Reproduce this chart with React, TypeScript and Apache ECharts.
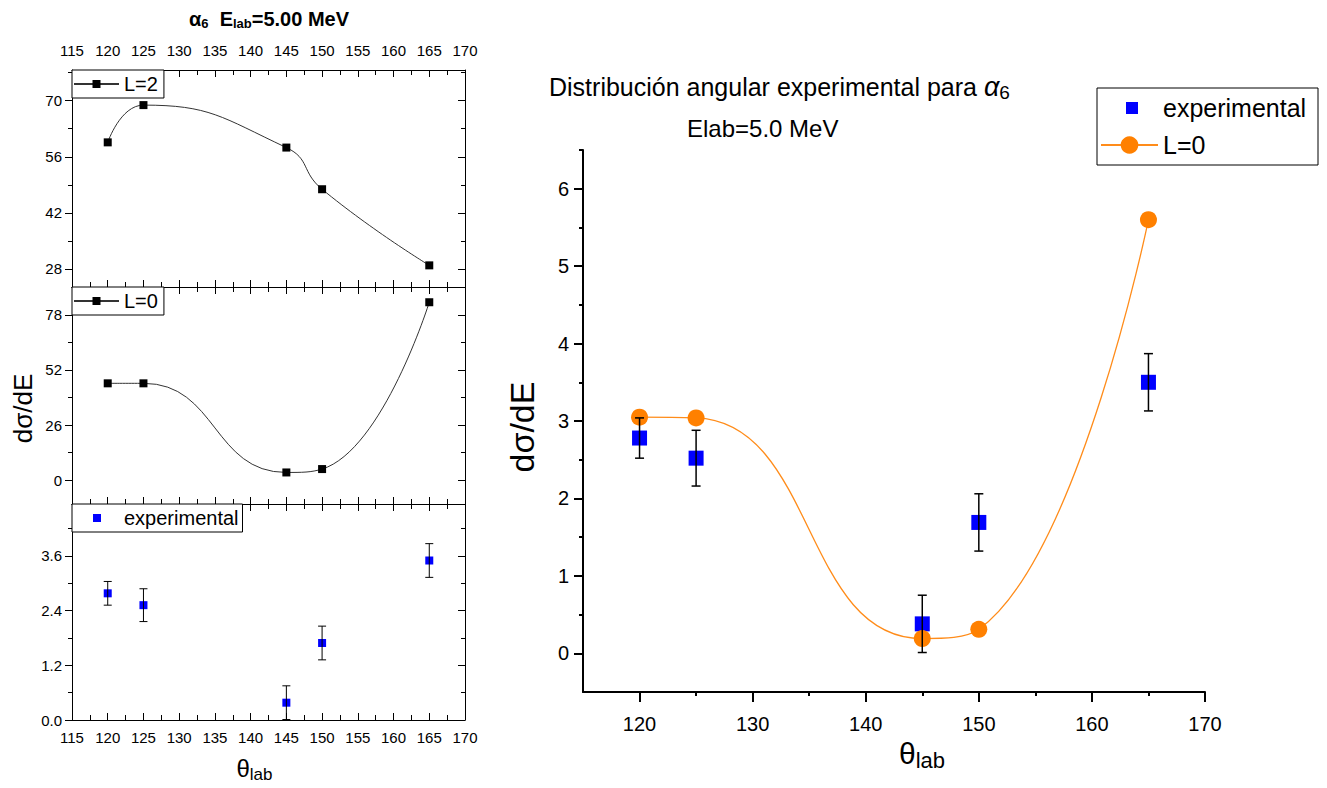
import React, { useEffect, useRef } from "react";
import * as echarts from "echarts";

// ---------- data ----------
const angles = [120, 125, 145, 150, 165];
const l2Values = [59.6, 68.9, 58.3, 47.9, 28.9];
const l0LeftValues = [45.7, 45.7, 3.6, 5.2, 84.0];
const expValues = [2.78, 2.52, 0.38, 1.69, 3.5];
const expErrors = [0.26, 0.36, 0.37, 0.37, 0.37];
const l0RightValues = [3.05, 3.04, 0.19, 0.31, 5.6];

// axis ranges / tick labels
const leftXRange = [115, 170];
const leftXStep = 5;
const panel1Range = [23.5, 77.66];
const panel1Ticks = [28, 42, 56, 70];
const panel1Minor = [35, 49, 63, 77];
const panel2Range = [-11.3, 91.2];
const panel2Ticks = [0, 26, 52, 78];
const panel2Minor = [13, 39, 65];
const panel3Range = [0, 4.74];
const panel3Ticks = [0, 1.2, 2.4, 3.6];
const panel3Minor = [0.6, 1.8, 3.0, 4.2];
const rightXRange = [115, 170];
const rightXTicks = [120, 130, 140, 150, 160, 170];
const rightXMinor = [125, 135, 145, 155, 165];
const rightYRange = [-0.5, 6.5];
const rightYTicks = [0, 1, 2, 3, 4, 5, 6];
const rightYMinor = [0.5, 1.5, 2.5, 3.5, 4.5, 5.5, 6.5];

const FONT = "'Liberation Sans', Arial, sans-serif";
const BLACK = "#000";
const BLUE = "#0000FF";
const ORANGE = "#FF8000";

function leftX(grid: number, pos: string, showLabel: boolean, withName: boolean) {
  const ax: any = {
    type: "value",
    gridIndex: grid,
    position: pos,
    min: leftXRange[0],
    max: leftXRange[1],
    interval: leftXStep,
    axisLine: { show: true, onZero: false, lineStyle: { color: BLACK, width: 1 } },
    axisTick: { show: true, inside: true, length: 7, lineStyle: { color: BLACK, width: 1 } },
    minorTick: { show: true, splitNumber: 2, length: 5, lineStyle: { color: BLACK, width: 1 } },
    splitLine: { show: false },
    minorSplitLine: { show: false },
    axisLabel: {
      show: showLabel,
      fontSize: 15,
      color: BLACK,
      fontFamily: FONT,
      margin: pos === "top" ? 12 : 10,
    },
  };
  if (withName) {
    ax.name = "{t|θ}{s|lab}";
    ax.nameLocation = "middle";
    ax.nameGap = 34;
    ax.nameTextStyle = {
      padding: [0, 28, 0, 0],
      rich: {
        t: { fontSize: 24, fontFamily: FONT, color: BLACK },
        s: { fontSize: 17, fontFamily: FONT, color: BLACK, padding: [12, 0, 0, 0] },
      },
    };
  }
  return ax;
}

function leftY(
  grid: number,
  range: number[],
  majors: number[],
  minors: number[],
  fmt: (v: number) => string,
  name?: boolean
) {
  const common = {
    type: "value",
    gridIndex: grid,
    min: range[0],
    max: range[1],
    splitLine: { show: false },
    minorSplitLine: { show: false },
  };
  const major: any = {
    ...common,
    position: "left",
    axisLine: { show: true, onZero: false, lineStyle: { color: BLACK, width: 1 } },
    axisTick: { show: true, inside: false, length: 7, customValues: majors, lineStyle: { color: BLACK, width: 1 } },
    axisLabel: {
      show: true,
      customValues: majors,
      formatter: fmt,
      fontSize: 15,
      color: BLACK,
      fontFamily: FONT,
      margin: 10,
    },
  };
  if (name) {
    major.name = "dσ/dE";
    major.nameLocation = "middle";
    major.nameGap = 36;
    major.nameTextStyle = { fontSize: 26, fontFamily: FONT, color: BLACK, padding: [0, 0, 0, -26] };
  }
  const minor = {
    ...common,
    position: "left",
    axisLine: { show: false },
    axisTick: { show: true, inside: false, length: 4, customValues: minors, lineStyle: { color: BLACK, width: 1 } },
    axisLabel: { show: false },
  };
  const rmajor = {
    ...common,
    position: "right",
    axisLine: { show: true, onZero: false, lineStyle: { color: BLACK, width: 1 } },
    axisTick: { show: true, inside: true, length: 7, customValues: majors, lineStyle: { color: BLACK, width: 1 } },
    axisLabel: { show: false },
  };
  const rminor = {
    ...common,
    position: "right",
    axisLine: { show: false },
    axisTick: { show: true, inside: true, length: 4, customValues: minors, lineStyle: { color: BLACK, width: 1 } },
    axisLabel: { show: false },
  };
  return [major, minor, rmajor, rminor];
}

function errorBars(xIdx: number, yIdx: number, capHalf: number, width: number, z: number) {
  return {
    type: "custom",
    xAxisIndex: xIdx,
    yAxisIndex: yIdx,
    z,
    silent: true,
    encode: { x: 0, y: [1, 2] },
    data: angles.map((a, i) => [a, expValues[i] - expErrors[i], expValues[i] + expErrors[i]]),
    renderItem: (_params: any, api: any) => {
      const x = api.value(0);
      const lo = api.coord([x, api.value(1)]);
      const hi = api.coord([x, api.value(2)]);
      const style = { stroke: BLACK, lineWidth: width, fill: "none" };
      return {
        type: "group",
        children: [
          { type: "line", shape: { x1: lo[0], y1: lo[1], x2: hi[0], y2: hi[1] }, style },
          { type: "line", shape: { x1: lo[0] - capHalf, y1: lo[1], x2: lo[0] + capHalf, y2: lo[1] }, style },
          { type: "line", shape: { x1: hi[0] - capHalf, y1: hi[1], x2: hi[0] + capHalf, y2: hi[1] }, style },
        ],
      };
    },
  };
}

function buildOption(): any {
  const grids = [
    { left: 72, top: 70, width: 393, height: 217 },
    { left: 72, top: 287, width: 393, height: 217 },
    { left: 72, top: 504, width: 393, height: 216 },
    { left: 583, top: 150, width: 622, height: 542 },
  ].map((g) => ({ ...g, show: false, containLabel: false, outerBoundsMode: "none" }));

  const xAxis: any[] = [];
  for (let g = 0; g < 3; g++) {
    xAxis.push(leftX(g, "bottom", g === 2, g === 2));
    xAxis.push(leftX(g, "top", g === 0, false));
  }
  // right chart x axes (index 6 main, 7 minor ticks)
  xAxis.push({
    type: "value",
    gridIndex: 3,
    position: "bottom",
    min: rightXRange[0],
    max: rightXRange[1],
    axisLine: { show: true, onZero: false, lineStyle: { color: BLACK, width: 2 } },
    axisTick: { show: true, inside: false, length: 10, customValues: rightXTicks, lineStyle: { color: BLACK, width: 2 } },
    axisLabel: { show: true, customValues: rightXTicks, fontSize: 20, color: BLACK, fontFamily: FONT, margin: 22 },
    splitLine: { show: false },
    name: "{t|θ}{s|lab}",
    nameLocation: "middle",
    nameGap: 34,
    nameTextStyle: {
      padding: [0, 0, 0, 56],
      rich: {
        t: { fontSize: 30, fontFamily: FONT, color: BLACK },
        s: { fontSize: 22, fontFamily: FONT, color: BLACK, padding: [14, 0, 0, 0] },
      },
    },
  });
  xAxis.push({
    type: "value",
    gridIndex: 3,
    position: "bottom",
    min: rightXRange[0],
    max: rightXRange[1],
    axisLine: { show: false, onZero: false },
    axisTick: { show: true, inside: false, length: 4, customValues: rightXMinor, lineStyle: { color: BLACK, width: 2 } },
    axisLabel: { show: false },
    splitLine: { show: false },
  });

  const int = (v: number) => String(Math.round(v));
  const yAxis: any[] = [
    ...leftY(0, panel1Range, panel1Ticks, panel1Minor, int),
    ...leftY(1, panel2Range, panel2Ticks, panel2Minor, int, true),
    ...leftY(2, panel3Range, panel3Ticks, panel3Minor, (v: number) => v.toFixed(1)),
  ];
  // right chart y axes (index 12 main, 13 minor)
  yAxis.push({
    type: "value",
    gridIndex: 3,
    position: "left",
    min: rightYRange[0],
    max: rightYRange[1],
    axisLine: { show: true, onZero: false, lineStyle: { color: BLACK, width: 2 } },
    axisTick: { show: true, inside: false, length: 9, customValues: rightYTicks, lineStyle: { color: BLACK, width: 2 } },
    axisLabel: { show: true, customValues: rightYTicks, fontSize: 20, color: BLACK, fontFamily: FONT, margin: 14 },
    splitLine: { show: false },
    name: "dσ/dE",
    nameLocation: "middle",
    nameGap: 44,
    nameTextStyle: { fontSize: 34, fontFamily: FONT, color: BLACK, padding: [0, 0, 0, -12] },
  });
  yAxis.push({
    type: "value",
    gridIndex: 3,
    position: "left",
    min: rightYRange[0],
    max: rightYRange[1],
    axisLine: { show: false, onZero: false },
    axisTick: { show: true, inside: false, length: 4, customValues: rightYMinor, lineStyle: { color: BLACK, width: 2 } },
    axisLabel: { show: false },
    splitLine: { show: false },
  });

  const pairs = (vals: number[]) => angles.map((a, i) => [a, vals[i]]);

  const series: any[] = [
    {
      name: "L=2",
      type: "line",
      xAxisIndex: 0,
      yAxisIndex: 0,
      data: pairs(l2Values),
      smooth: true,
      symbol: "rect",
      symbolSize: 8,
      itemStyle: { color: BLACK, opacity: 1 },
      lineStyle: { color: "#333", width: 1 },
    },
    {
      name: "L0_left",
      type: "line",
      xAxisIndex: 2,
      yAxisIndex: 4,
      data: pairs(l0LeftValues),
      smooth: true,
      symbol: "rect",
      symbolSize: 8,
      itemStyle: { color: BLACK, opacity: 1 },
      lineStyle: { color: "#333", width: 1 },
    },
    {
      name: "exp_left",
      type: "scatter",
      xAxisIndex: 4,
      yAxisIndex: 8,
      data: pairs(expValues),
      symbol: "rect",
      symbolSize: 8,
      itemStyle: { color: BLUE, opacity: 1 },
      z: 2,
    },
    errorBars(4, 8, 4, 1, 4),
    {
      name: "experimental",
      type: "scatter",
      xAxisIndex: 6,
      yAxisIndex: 12,
      data: pairs(expValues),
      symbol: "rect",
      symbolSize: 15,
      itemStyle: { color: BLUE, opacity: 1 },
      z: 2,
    },
    {
      name: "L=0",
      type: "line",
      xAxisIndex: 6,
      yAxisIndex: 12,
      data: pairs(l0RightValues),
      smooth: true,
      symbol: "circle",
      symbolSize: 17,
      itemStyle: { color: ORANGE, opacity: 1 },
      lineStyle: { color: "#FF8C1A", width: 1.3 },
      z: 3,
    },
    errorBars(6, 12, 4.5, 1.5, 5),
  ];

  const leftLegendText = { fontSize: 20, fontFamily: FONT, color: BLACK, lineHeight: 22 };
  const legendNames: Record<string, string> = { L0_left: "L=0", exp_left: "experimental" };
  const legend = [
    {
      data: ["L=2"],
      left: 72,
      top: 70,
      selectedMode: false,
      itemWidth: 45,
      itemHeight: 10,
      padding: [3, 6, 3, 1],
      borderColor: BLACK,
      borderWidth: 1,
      backgroundColor: "#fff",
      textStyle: leftLegendText,
    },
    {
      data: ["L0_left"],
      left: 72,
      top: 287,
      selectedMode: false,
      itemWidth: 45,
      itemHeight: 10,
      padding: [3, 6, 3, 1],
      borderColor: BLACK,
      borderWidth: 1,
      backgroundColor: "#fff",
      textStyle: leftLegendText,
      formatter: (n: string) => legendNames[n] || n,
    },
    {
      data: ["exp_left"],
      left: 72,
      top: 504,
      selectedMode: false,
      itemWidth: 8,
      itemHeight: 8,
      padding: [3, 4, 3, 21],
      borderColor: BLACK,
      borderWidth: 1,
      backgroundColor: "#fff",
      textStyle: { ...leftLegendText, padding: [0, 0, 0, 18] },
      formatter: (n: string) => legendNames[n] || n,
    },
    {
      data: ["experimental"],
      left: 1126,
      top: 93,
      selectedMode: false,
      itemWidth: 12,
      itemHeight: 12,
      padding: 0,
      textStyle: { fontSize: 25, fontFamily: FONT, color: BLACK, lineHeight: 30, padding: [0, 0, 0, 20] },
    },
    {
      data: ["L=0"],
      left: 1100,
      top: 130,
      selectedMode: false,
      itemWidth: 57,
      itemHeight: 22,
      padding: 0,
      textStyle: { fontSize: 25, fontFamily: FONT, color: BLACK, lineHeight: 30 },
    },
  ];

  const title = [
    {
      text: "{b|α}{bs|6}{b|  E}{bs|lab}{b|=5.00 MeV}",
      left: 184,
      top: 2,
      textStyle: {
        rich: {
          b: { fontSize: 20, fontWeight: "bold", fontFamily: FONT, color: BLACK },
          bs: { fontSize: 13, fontWeight: "bold", fontFamily: FONT, color: BLACK, padding: [10, 0, 0, 0] },
        },
      },
    },
    {
      text: "Distribución angular experimental para {a|α}{s|6}",
      left: 544,
      top: 66,
      textStyle: {
        fontSize: 25,
        fontWeight: "normal",
        fontFamily: FONT,
        color: BLACK,
        rich: {
          a: { fontSize: 27, fontStyle: "italic", fontFamily: FONT, color: BLACK },
          s: { fontSize: 19, fontFamily: FONT, color: BLACK, padding: [12, 0, 0, 0] },
        },
      },
    },
    {
      text: "Elab=5.0 MeV",
      left: 682,
      top: 111,
      textStyle: { fontSize: 24, fontWeight: "normal", fontFamily: FONT, color: BLACK },
    },
  ];

  return {
    animation: false,
    backgroundColor: "#fff",
    textStyle: { fontFamily: FONT },
    title,
    legend,
    grid: grids,
    xAxis,
    yAxis,
    series,
    graphic: [
      {
        type: "rect",
        shape: { x: 1097, y: 88, width: 221, height: 77 },
        style: { fill: "#fff", stroke: BLACK, lineWidth: 1 },
        z: 0,
      },
    ],
  };
}

export default function App() {
  const ref = useRef<HTMLDivElement>(null);
  useEffect(() => {
    document.body.style.margin = "0";
    const chart = echarts.init(ref.current as HTMLDivElement, null, { renderer: "svg" });
    chart.setOption(buildOption());
    return () => chart.dispose();
  }, []);
  return <div ref={ref} style={{ width: 1327, height: 788 }} />;
}
